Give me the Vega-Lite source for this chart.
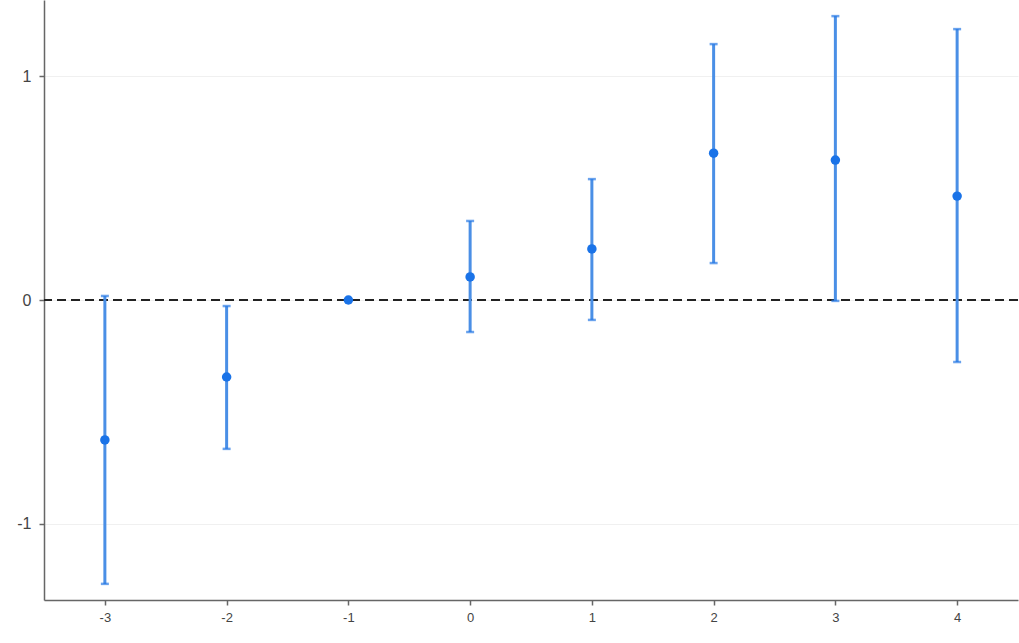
{
  "$schema": "https://vega.github.io/schema/vega-lite/v6.json",
  "width": 1019,
  "height": 643,
  "autosize": {"type": "fit", "contains": "padding"},
  "padding": {"left": 0, "top": 0, "right": 0, "bottom": 0},
  "background": "white",
  "config": {
    "view": {"stroke": null},
    "axis": {"labelFont": "Liberation Sans", "labelFontSize": 13, "labelColor": "#444444", "domainColor": "#666666", "domainWidth": 1.5, "tickColor": "#666666", "tickWidth": 1.5, "tickSize": 5}
  },
  "data": {
    "values": [
      {"t": -3, "est": -0.625, "lo": -1.268, "hi": 0.018},
      {"t": -2, "est": -0.344, "lo": -0.665, "hi": -0.027},
      {"t": -1, "est": 0.0, "lo": null, "hi": null},
      {"t": 0, "est": 0.103, "lo": -0.143, "hi": 0.353},
      {"t": 1, "est": 0.228, "lo": -0.089, "hi": 0.540},
      {"t": 2, "est": 0.656, "lo": 0.165, "hi": 1.143},
      {"t": 3, "est": 0.625, "lo": -0.004, "hi": 1.268},
      {"t": 4, "est": 0.464, "lo": -0.277, "hi": 1.21}
    ]
  },
  "encoding": {
    "x": {"field": "t", "type": "quantitative", "scale": {"domain": [-3.5, 4.5], "nice": false, "zero": false},
      "axis": {"title": null, "values": [-3, -2, -1, 0, 1, 2, 3, 4], "grid": false, "labelPadding": 6, "labelExpr": "datum.value + ''", "minExtent": 43, "maxExtent": 43}}
  },
  "layer": [
    {
      "data": {"values": [{"z": 0}]},
      "mark": {"type": "rule", "color": "#222222", "strokeWidth": 2, "strokeDash": [9, 5]},
      "encoding": {"x": null, "y": {"field": "z", "type": "quantitative"}}
    },
    {
      "mark": {"type": "rule", "color": "#4a8fe6", "strokeWidth": 3},
      "encoding": {
        "y": {"field": "lo", "type": "quantitative", "scale": {"domain": [-1.34, 1.34], "nice": false, "zero": false},
          "axis": {"title": null, "values": [-1, 0, 1], "grid": true, "gridColor": "#f0f0f0", "gridWidth": 1, "labelPadding": 8, "labelFontSize": 16, "labelExpr": "datum.value + ''", "minExtent": 44, "maxExtent": 44}},
        "y2": {"field": "hi"}
      }
    },
    {
      "mark": {"type": "tick", "orient": "horizontal", "color": "#2a7be6", "size": 8, "thickness": 2.5},
      "encoding": {"y": {"field": "lo", "type": "quantitative"}}
    },
    {
      "mark": {"type": "tick", "orient": "horizontal", "color": "#2a7be6", "size": 8, "thickness": 2.5},
      "encoding": {"y": {"field": "hi", "type": "quantitative"}}
    },
    {
      "mark": {"type": "point", "filled": true, "opacity": 1, "color": "#1a73e8", "size": 90},
      "encoding": {"y": {"field": "est", "type": "quantitative"}}
    }
  ]
}
